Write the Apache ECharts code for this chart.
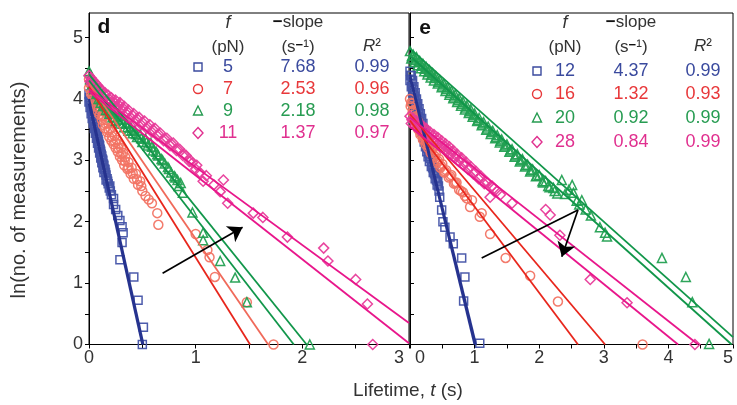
<!DOCTYPE html>
<html><head><meta charset="utf-8">
<script src="https://cdn.jsdelivr.net/npm/echarts@6/dist/echarts.min.js"></script>
<style>html,body{margin:0;padding:0;background:#fff}#c{width:737px;height:405px}</style>
</head><body><div id="c"></div>
<script>
// ---------- tick labels ----------
const yTicks = [0, 1, 2, 3, 4, 5];
const yTickMarks = [0, 0.5, 1, 1.5, 2, 2.5, 3, 3.5, 4, 4.5, 5];
const xTicksD = [0, 1, 2, 3];
const xTickMarksD = [0, 0.5, 1, 1.5, 2, 2.5, 3];
const xTicksE = [0, 1, 2, 3, 4, 5];
const xTickMarksE = [0, 0.5, 1, 1.5, 2, 2.5, 3, 3.5, 4, 4.5, 5];

// ---------- legend table values ----------
const forcesD = ['5', '7', '9', '11'];
const slopesD = ['7.68', '2.53', '2.18', '1.37'];
const r2D = ['0.99', '0.96', '0.98', '0.97'];
const forcesE = ['12', '16', '20', '28'];
const slopesE = ['4.37', '1.32', '0.92', '0.84'];
const r2E = ['0.99', '0.93', '0.99', '0.99'];

// ---------- panel d scatter data (t, ln N) ----------
const dBlue = [[0.00,4.08],[0.00,3.95],[0.01,3.98],[0.01,3.86],[0.02,3.90],[0.02,3.76],[0.03,3.80],[0.03,3.68],[0.04,3.72],[0.04,3.60],[0.05,3.63],[0.05,3.52],[0.06,3.55],[0.06,3.44],[0.07,3.47],[0.07,3.36],[0.08,3.40],[0.08,3.28],[0.09,3.31],[0.09,3.20],[0.10,3.24],[0.10,3.12],[0.11,3.15],[0.11,3.04],[0.12,3.07],[0.12,2.96],[0.13,3.00],[0.13,2.88],[0.14,2.92],[0.14,2.80],[0.15,2.85],[0.16,2.76],[0.16,2.68],[0.17,2.70],[0.18,2.62],[0.19,2.55],[0.20,2.50],[0.21,2.44],[0.23,2.38],[0.23,2.28],[0.25,2.20],[0.27,2.10],[0.29,2.02],[0.31,1.92],[0.32,1.82],[0.31,1.66],[0.29,1.38],[0.42,1.10],[0.46,0.72],[0.51,0.28],[0.50,0.00],
  [0.005,4.02],[0.015,3.92],[0.025,3.82],[0.035,3.74],[0.045,3.66],[0.055,3.58],[0.065,3.50],[0.075,3.42],[0.085,3.34],[0.095,3.26],[0.105,3.18],[0.115,3.10],[0.125,3.02],[0.135,2.94],[0.145,2.86],[0.155,2.80],[0.175,2.66],[0.195,2.58]];
const dRed = [[0.00,4.32],[0.00,4.18],[0.02,4.24],[0.02,4.08],[0.03,4.16],[0.04,4.02],[0.05,4.12],[0.05,3.94],[0.06,4.05],[0.07,3.88],[0.08,3.98],[0.08,3.80],[0.09,3.92],[0.10,3.74],[0.11,3.85],[0.12,3.66],[0.13,3.80],[0.13,3.58],[0.14,3.72],[0.15,3.52],[0.16,3.66],[0.17,3.46],[0.18,3.60],[0.19,3.38],[0.20,3.52],[0.21,3.32],[0.22,3.46],[0.23,3.26],[0.24,3.40],[0.25,3.20],[0.26,3.33],[0.27,3.14],[0.28,3.26],[0.29,3.06],[0.30,3.20],[0.31,3.00],[0.32,3.12],[0.33,2.92],[0.34,3.05],[0.36,2.86],[0.37,2.97],[0.39,2.78],[0.40,2.88],[0.42,2.70],[0.44,2.78],[0.46,2.60],[0.48,2.66],[0.50,2.50],[0.53,2.42],[0.56,2.36],[0.59,2.30],[0.64,2.14],[0.65,1.95],[1.00,1.80],[1.11,1.54],[1.13,1.42],[1.18,1.10],[1.48,0.69],[1.73,0.00],
  [0.01,4.25],[0.035,4.08],[0.065,3.96],[0.095,3.83],[0.125,3.72],[0.155,3.60],[0.185,3.49],[0.215,3.39],[0.245,3.30],[0.275,3.20],[0.305,3.10],[0.335,2.99],[0.37,2.88],[0.41,2.79],[0.45,2.69],[0.49,2.58]];
const dGreen = [[0.00,4.45],[0.01,4.32],[0.02,4.38],[0.03,4.24],[0.04,4.30],[0.05,4.16],[0.06,4.22],[0.07,4.08],[0.08,4.14],[0.09,4.00],[0.10,4.08],[0.11,3.94],[0.12,4.00],[0.13,3.88],[0.14,3.94],[0.16,3.82],[0.17,3.88],[0.19,3.76],[0.20,3.82],[0.22,3.70],[0.23,3.78],[0.25,3.64],[0.27,3.72],[0.29,3.60],[0.31,3.66],[0.33,3.54],[0.35,3.60],[0.37,3.48],[0.39,3.54],[0.41,3.44],[0.43,3.48],[0.45,3.38],[0.48,3.42],[0.50,3.30],[0.53,3.35],[0.55,3.24],[0.58,3.28],[0.60,3.16],[0.63,3.14],[0.65,3.08],[0.68,3.02],[0.71,2.95],[0.74,2.89],[0.77,2.80],[0.80,2.74],[0.83,2.68],[0.86,2.63],[0.88,2.47],[0.97,2.15],[1.07,1.82],[1.07,1.70],[1.23,1.36],[1.37,1.09],[1.48,0.69],[2.07,0.00],
  [0.02,4.36],[0.05,4.22],[0.08,4.10],[0.11,4.00],[0.15,3.90],[0.18,3.82],[0.21,3.76],[0.24,3.70],[0.28,3.66],[0.32,3.60],[0.36,3.54],[0.40,3.49],[0.44,3.43],[0.49,3.36],[0.54,3.30],[0.59,3.22],[0.64,3.10],[0.69,3.00],[0.75,2.86],[0.81,2.72],[0.84,2.58]];
const dPink = [[0.00,4.38],[0.01,4.28],[0.02,4.34],[0.03,4.24],[0.04,4.30],[0.05,4.20],[0.06,4.26],[0.07,4.15],[0.08,4.22],[0.09,4.10],[0.10,4.18],[0.11,4.06],[0.12,4.14],[0.14,4.02],[0.15,4.10],[0.17,3.98],[0.18,4.06],[0.20,3.94],[0.21,4.02],[0.23,3.90],[0.25,3.98],[0.27,3.86],[0.29,3.94],[0.31,3.82],[0.33,3.88],[0.35,3.76],[0.37,3.82],[0.39,3.70],[0.42,3.76],[0.44,3.64],[0.47,3.70],[0.49,3.58],[0.52,3.64],[0.54,3.52],[0.57,3.58],[0.59,3.46],[0.62,3.52],[0.64,3.40],[0.67,3.44],[0.70,3.32],[0.73,3.36],[0.76,3.24],[0.79,3.28],[0.82,3.16],[0.85,3.18],[0.88,3.08],[0.91,3.08],[0.94,2.98],[0.97,2.96],[1.00,2.86],[1.04,2.80],[1.07,2.66],[1.23,2.49],[1.26,2.68],[1.30,2.30],[1.54,2.14],[1.63,2.07],[1.86,1.75],[2.20,1.57],[2.24,1.36],[2.50,1.06],[2.61,0.66],[2.66,0.00],
  [0.02,4.30],[0.06,4.22],[0.10,4.14],[0.15,4.06],[0.19,4.00],[0.24,3.94],[0.28,3.90],[0.32,3.85],[0.36,3.79],[0.41,3.73],[0.45,3.68],[0.50,3.62],[0.55,3.55],[0.60,3.50],[0.65,3.43],[0.71,3.35],[0.77,3.27],[0.83,3.18],[0.89,3.10],[0.95,3.00],[1.01,2.92],[1.10,2.75],[1.17,2.60]];

// ---------- panel d fit lines ----------
const dBlueFitA = [[0, 4.00], [0.51, 0]];
const dBlueFitB = [[0, 3.92], [0.50, 0]];
const dRedFitA = [[0, 4.20], [1.51, 0]];
const dRedFitB = [[0, 4.25], [1.68, 0]];
const dGreenFitA = [[0, 4.30], [1.92, 0]];
const dGreenFitB = [[0, 4.40], [2.04, 0]];
const dPinkFitA = [[0, 4.16], [3, 0.35]];
const dPinkFitB = [[0, 4.12], [3, 0.02]];

// ---------- panel e scatter data ----------
const eBlue = [[0.00,4.45],[0.00,4.30],[0.02,4.38],[0.02,4.20],[0.04,4.30],[0.04,4.10],[0.06,4.20],[0.06,4.00],[0.08,4.10],[0.08,3.90],[0.10,4.00],[0.10,3.82],[0.12,3.92],[0.12,3.72],[0.14,3.84],[0.14,3.62],[0.16,3.76],[0.16,3.54],[0.18,3.68],[0.18,3.46],[0.20,3.60],[0.20,3.38],[0.22,3.50],[0.22,3.30],[0.24,3.42],[0.24,3.22],[0.26,3.34],[0.26,3.14],[0.28,3.26],[0.28,3.06],[0.30,3.16],[0.30,2.98],[0.32,3.06],[0.33,2.90],[0.34,2.96],[0.36,2.80],[0.37,2.86],[0.39,2.70],[0.40,2.76],[0.42,2.60],[0.43,2.66],[0.45,2.50],[0.46,2.40],[0.49,2.19],[0.51,2.00],[0.54,1.91],[0.62,1.75],[0.67,1.64],[0.80,1.41],[0.85,1.10],[0.83,0.71],[1.08,0.02],
  [0.01,4.38],[0.03,4.25],[0.05,4.15],[0.07,4.05],[0.09,3.95],[0.11,3.87],[0.13,3.78],[0.15,3.69],[0.17,3.61],[0.19,3.53],[0.21,3.44],[0.23,3.36],[0.25,3.28],[0.27,3.20],[0.29,3.11],[0.31,3.03],[0.35,2.88],[0.38,2.78],[0.41,2.68],[0.44,2.58]];
const eRed = [[0.00,4.00],[0.01,3.88],[0.03,3.92],[0.04,3.78],[0.06,3.82],[0.07,3.68],[0.09,3.72],[0.10,3.58],[0.12,3.64],[0.13,3.50],[0.15,3.56],[0.16,3.42],[0.18,3.48],[0.20,3.34],[0.22,3.40],[0.24,3.26],[0.26,3.34],[0.28,3.20],[0.30,3.26],[0.32,3.12],[0.35,3.18],[0.37,3.04],[0.40,3.10],[0.42,2.96],[0.45,3.02],[0.47,2.88],[0.50,2.94],[0.53,2.80],[0.56,2.84],[0.60,2.72],[0.64,2.76],[0.68,2.62],[0.72,2.64],[0.76,2.52],[0.82,2.48],[0.88,2.38],[0.93,2.24],[0.96,2.35],[1.08,2.08],[1.11,2.14],[1.24,1.80],[1.48,1.41],[1.86,1.12],[2.29,0.70],[3.60,0.00],
  [0.02,3.94],[0.05,3.80],[0.08,3.70],[0.11,3.61],[0.14,3.53],[0.17,3.45],[0.21,3.37],[0.25,3.30],[0.29,3.23],[0.33,3.15],[0.38,3.07],[0.43,2.99],[0.48,2.91],[0.54,2.82],[0.62,2.74],[0.70,2.63],[0.79,2.50],[0.85,2.42]];
const eGreen = [[0.00,4.78],[0.02,4.66],[0.05,4.72],[0.07,4.60],[0.10,4.68],[0.12,4.55],[0.15,4.62],[0.17,4.50],[0.20,4.57],[0.22,4.45],[0.25,4.52],[0.27,4.40],[0.30,4.47],[0.32,4.35],[0.35,4.42],[0.37,4.30],[0.40,4.37],[0.43,4.25],[0.46,4.31],[0.49,4.19],[0.52,4.25],[0.55,4.13],[0.58,4.19],[0.61,4.07],[0.64,4.13],[0.67,4.01],[0.70,4.07],[0.73,3.95],[0.76,4.01],[0.79,3.89],[0.82,3.95],[0.85,3.83],[0.88,3.89],[0.91,3.77],[0.94,3.83],[0.97,3.71],[1.00,3.76],[1.04,3.64],[1.07,3.69],[1.11,3.57],[1.14,3.62],[1.18,3.50],[1.21,3.55],[1.25,3.43],[1.28,3.48],[1.32,3.36],[1.35,3.41],[1.39,3.29],[1.42,3.34],[1.46,3.22],[1.50,3.26],[1.54,3.14],[1.58,3.18],[1.62,3.06],[1.66,3.10],[1.70,2.98],[1.74,3.02],[1.78,2.90],[1.82,2.93],[1.86,2.82],[1.90,2.85],[1.95,2.74],[2.00,2.76],[2.05,2.66],[2.10,2.66],[2.16,2.56],[2.22,2.55],[2.28,2.46],[2.35,2.68],[2.51,2.60],[2.53,2.47],[2.58,2.34],[2.66,2.35],[2.72,2.20],[2.80,2.10],[2.94,1.91],[3.02,1.82],[3.05,1.76],[3.90,1.41],[4.27,1.10],[4.37,0.69],[4.63,0.01],
  [0.03,4.70],[0.08,4.64],[0.13,4.60],[0.18,4.54],[0.23,4.49],[0.28,4.44],[0.33,4.39],[0.38,4.34],[0.44,4.28],[0.50,4.22],[0.56,4.16],[0.62,4.10],[0.68,4.04],[0.74,3.98],[0.80,3.92],[0.86,3.86],[0.92,3.80],[0.98,3.74],[1.05,3.66],[1.12,3.60],[1.19,3.52],[1.26,3.46],[1.33,3.38],[1.40,3.32],[1.47,3.24],[1.55,3.16],[1.63,3.08],[1.71,3.00],[1.79,2.92],[1.87,2.84],[1.96,2.75],[2.06,2.64],[2.14,2.58],[2.24,2.50],[2.40,2.45],[2.46,2.52],[2.62,2.28]];
const ePink = [[0.00,3.72],[0.02,3.60],[0.05,3.68],[0.07,3.56],[0.10,3.64],[0.12,3.52],[0.15,3.60],[0.17,3.48],[0.20,3.56],[0.22,3.44],[0.25,3.52],[0.28,3.40],[0.31,3.46],[0.34,3.34],[0.37,3.42],[0.40,3.30],[0.43,3.37],[0.46,3.24],[0.49,3.32],[0.52,3.20],[0.55,3.27],[0.58,3.15],[0.61,3.22],[0.64,3.10],[0.67,3.16],[0.70,3.04],[0.73,3.10],[0.76,2.98],[0.80,3.04],[0.83,2.92],[0.87,2.97],[0.90,2.85],[0.94,2.90],[0.98,2.78],[1.02,2.82],[1.06,2.70],[1.10,2.74],[1.15,2.62],[1.20,2.64],[1.24,2.40],[1.30,2.54],[1.40,2.44],[1.58,2.30],[2.10,2.20],[2.17,2.11],[2.32,1.78],[2.79,1.06],[3.36,0.68],[4.41,0.00],
  [0.03,3.66],[0.08,3.62],[0.13,3.58],[0.18,3.54],[0.23,3.50],[0.29,3.44],[0.35,3.40],[0.41,3.34],[0.47,3.29],[0.53,3.24],[0.59,3.19],[0.65,3.14],[0.71,3.08],[0.78,3.02],[0.85,2.95],[0.92,2.88],[1.00,2.80],[1.08,2.72],[1.17,2.66],[1.27,2.58],[1.35,2.50]];

// ---------- panel e fit lines ----------
const eBlueFitA = [[0, 4.40], [1.02, 0]];
const eBlueFitB = [[0, 4.35], [1.00, 0]];
const eRedFitA = [[0, 3.65], [2.60, 0]];
const eRedFitB = [[0, 3.75], [3.02, 0]];
const ePinkFitA = [[0, 3.55], [4.15, 0]];
const ePinkFitB = [[0, 3.70], [4.46, 0]];
const eGreenFitA = [[0, 4.82], [5, 0.12]];
const eGreenFitB = [[0, 4.70], [4.98, 0]];

// ---------- arrows (data coords) ----------
const arrowD = [[0.69, 1.16], [1.44, 1.91]];
const arrowE = [[1.11, 1.41], [2.60, 2.19], [2.35, 1.43]];

// ---------- styling ----------
const C = {
  blueM: '#4353a8', blueL: '#26338f', blueT: '#3a4a9e',
  redM: '#f27464', redL: '#e8261c', salL: '#f06a5a', redT: '#e8383a',
  greenM: '#23a052', greenL: '#11964a', greenT: '#279c52',
  pinkM: '#e83c9a', pinkL: '#e8168b', pinkT: '#e0308f'
};
const FONT = '"Liberation Sans", Arial, "DejaVu Sans", sans-serif';
const LF = 18; // legend font size

function sc(data, gi, symbol, size, color) {
  return { type: 'scatter', xAxisIndex: gi, yAxisIndex: gi, data: data, symbol: symbol, symbolSize: size,
    itemStyle: { color: 'rgba(0,0,0,0)', borderColor: color, borderWidth: 1.5, opacity: 0.95 }, z: 2, silent: true };
}
function ln(data, gi, color, w) {
  return { type: 'line', xAxisIndex: gi, yAxisIndex: gi, data: data, showSymbol: false, symbol: 'none',
    lineStyle: { color: color, width: w || 1.8 }, z: 3, silent: true, clip: true };
}
function xAx(gi, max, labels, marks, isRight) {
  return { gridIndex: gi, type: 'value', min: 0, max: max, interval: 1,
    axisLine: { show: true, onZero: false, lineStyle: { color: '#000', width: 1 } },
    axisTick: { show: true, inside: false, length: 4, customValues: marks, lineStyle: { color: '#000' } },
    splitLine: { show: false },
    axisLabel: { customValues: labels, fontSize: 18, color: '#333', margin: 5, fontFamily: FONT,
      alignMaxLabel: 'right', alignMinLabel: isRight ? 'left' : 'center',
      formatter: function (v) {
        if (!isRight && v === max) return v + ' ';
        if (isRight && v === 0) return ' ' + v;
        return String(v);
      } } };
}
function yAx(gi, showLabels) {
  return { gridIndex: gi, type: 'value', min: 0, max: 5.4,
    axisLine: { show: true, onZero: false, lineStyle: { color: '#000', width: 1 } },
    axisTick: { show: true, inside: !showLabels, length: 4, customValues: yTickMarks, lineStyle: { color: '#000' } },
    splitLine: { show: false },
    axisLabel: { show: showLabels, customValues: yTicks, fontSize: 18, color: '#333', margin: 6, fontFamily: FONT } };
}

function legendTable(rows, forces, slopes, r2s, colors, cols) {
  const g = [];
  const txt = (x, y, text, color, extra) => g.push({ type: 'text', x: x, y: y, silent: true,
    style: Object.assign({ text: text, fill: color, font: LF + 'px ' + FONT, align: 'center', verticalAlign: 'middle' }, extra || {}) });
  txt(cols.f, 23, 'f', '#333', { font: 'italic ' + LF + 'px ' + FONT });
  txt(cols.f, 47, '(pN)', '#333', { font: '17px ' + FONT });
  txt(cols.s, 22, '{b|−}slope', '#333', { font: '17px ' + FONT, rich: { b: { font: 'bold 17px ' + FONT, fill: '#111' } } });
  txt(cols.s, 47, '(s{b|−}¹)', '#333', { font: '17px ' + FONT, rich: { b: { font: 'bold 13px ' + FONT, fill: '#111', verticalAlign: 'top' } } });
  txt(cols.r, 46, '{i|R}²', '#333', { font: '17px ' + FONT, rich: { i: { font: 'italic 17px ' + FONT, fill: '#333' } } });
  const shapes = ['sq', 'ci', 'tr', 'di'];
  for (let i = 0; i < 4; i++) {
    const y = rows[i], col = colors[i], mx = cols.m;
    const st = { fill: 'none', stroke: col, lineWidth: 1.4 };
    if (shapes[i] === 'sq') g.push({ type: 'rect', silent: true, shape: { x: mx - 4, y: y - 4, width: 8, height: 8 }, style: st });
    if (shapes[i] === 'ci') g.push({ type: 'circle', silent: true, shape: { cx: mx, cy: y, r: 4.5 }, style: st });
    if (shapes[i] === 'tr') g.push({ type: 'polygon', silent: true, shape: { points: [[mx, y - 5], [mx + 4.5, y + 4], [mx - 4.5, y + 4]] }, style: st });
    if (shapes[i] === 'di') g.push({ type: 'polygon', silent: true, shape: { points: [[mx, y - 5.5], [mx + 5, y], [mx, y + 5.5], [mx - 5, y]] }, style: st });
    txt(cols.f, y, forces[i], col);
    txt(cols.s, y, slopes[i], col);
    txt(cols.r, y, r2s[i], col);
  }
  return g;
}

const textColors = [C.blueT, C.redT, C.greenT, C.pinkT];

const graphic = [].concat(
  legendTable([67, 89, 111, 133], forcesD, slopesD, r2D, textColors, { m: 198, f: 228, s: 298, r: 372 }),
  legendTable([71, 94, 118, 142], forcesE, slopesE, r2E, textColors, { m: 537, f: 565, s: 631, r: 703 }),
  [
    { type: 'text', x: 104, y: 27, silent: true, style: { text: 'd', font: 'bold 21px ' + FONT, fill: '#111', align: 'center', verticalAlign: 'middle' } },
    { type: 'text', x: 425, y: 28, silent: true, style: { text: 'e', font: 'bold 21px ' + FONT, fill: '#111', align: 'center', verticalAlign: 'middle' } },
    { type: 'text', x: 19, y: 190, rotation: Math.PI / 2, silent: true, style: { text: 'ln(no. of measurements)', font: '20px ' + FONT, fill: '#333', align: 'center', verticalAlign: 'middle' } },
    { type: 'text', x: 408, y: 391, silent: true, style: { text: 'Lifetime, {i|t} (s)', font: '19px ' + FONT, fill: '#333', align: 'center', verticalAlign: 'middle', rich: { i: { font: 'italic 19px ' + FONT, fill: '#333' } } } }
  ]
);

const arrowStyle = { color: '#000', width: 1.7, type: 'solid' };
const option = {
  animation: false,
  backgroundColor: '#fff',
  grid: [
    { left: 89, top: 13, width: 320, height: 331.5, show: true, borderColor: '#000', borderWidth: 1, backgroundColor: 'rgba(0,0,0,0)' },
    { left: 410, top: 13, width: 323, height: 331.5, show: true, borderColor: '#000', borderWidth: 1, backgroundColor: 'rgba(0,0,0,0)' }
  ],
  xAxis: [xAx(0, 3, xTicksD, xTickMarksD, false), xAx(1, 5, xTicksE, xTickMarksE, true)],
  yAxis: [yAx(0, true), yAx(1, false)],
  graphic: graphic,
  series: [
    sc(dBlue, 0, 'rect', 8, C.blueM),
    sc(dRed, 0, 'circle', 9, C.redM),
    sc(dGreen, 0, 'triangle', 9, C.greenM),
    sc(dPink, 0, 'diamond', 10, C.pinkM),
    ln(dBlueFitA, 0, C.blueL, 2.2), ln(dBlueFitB, 0, C.blueL, 2.2),
    ln(dRedFitA, 0, C.redL), ln(dRedFitB, 0, C.salL),
    ln(dGreenFitA, 0, C.greenL), ln(dGreenFitB, 0, C.greenL),
    ln(dPinkFitA, 0, C.pinkL), ln(dPinkFitB, 0, C.pinkL),
    sc(eBlue, 1, 'rect', 8, C.blueM),
    sc(eRed, 1, 'circle', 9, C.redM),
    sc(eGreen, 1, 'triangle', 9, C.greenM),
    sc(ePink, 1, 'diamond', 10, C.pinkM),
    ln(eBlueFitA, 1, C.blueL, 2.2), ln(eBlueFitB, 1, C.blueL, 2.2),
    ln(eRedFitA, 1, C.redL), ln(eRedFitB, 1, C.redL),
    ln(ePinkFitA, 1, C.pinkL), ln(ePinkFitB, 1, C.pinkL),
    ln(eGreenFitA, 1, C.greenL), ln(eGreenFitB, 1, C.greenL),
    { type: 'line', xAxisIndex: 0, yAxisIndex: 0, data: [], z: 5, silent: true,
      markLine: { silent: true, animation: false, symbol: ['none', 'arrow'], symbolSize: 14, label: { show: false }, lineStyle: arrowStyle,
        emphasis: { disabled: true },
        data: [[{ coord: arrowD[0] }, { coord: arrowD[1] }]] } },
    { type: 'line', xAxisIndex: 1, yAxisIndex: 1, data: [], z: 5, silent: true,
      markLine: { silent: true, animation: false, symbolSize: 14, label: { show: false }, lineStyle: arrowStyle,
        emphasis: { disabled: true },
        data: [
          [{ coord: arrowE[0], symbol: 'none' }, { coord: arrowE[1], symbol: 'none' }],
          [{ coord: arrowE[1], symbol: 'none' }, { coord: arrowE[2], symbol: 'arrow' }]
        ] } }
  ]
};
const chart = echarts.init(document.getElementById('c'), null, { renderer: 'canvas' });
chart.setOption(option);
</script></body></html>
